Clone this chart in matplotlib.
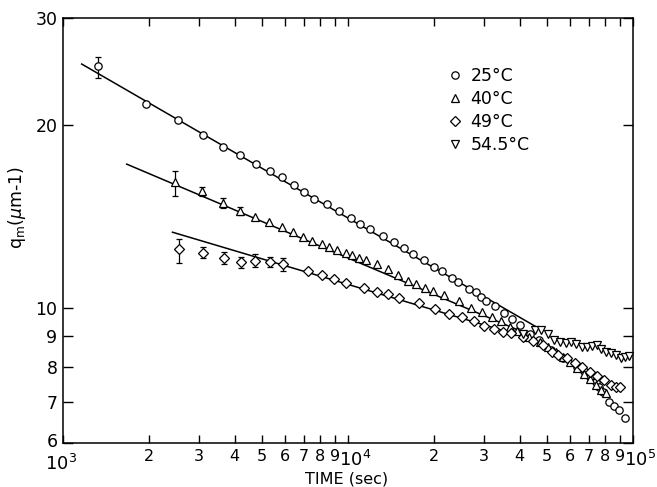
import matplotlib
matplotlib.use('Agg')
import matplotlib.pyplot as plt
import matplotlib.transforms as mtransforms

# q_m (um^-1) versus time (sec)
t25 = [1324, 1955, 2526, 3092, 3642, 4180, 4756, 5325, 5884, 6464,
       7009, 7598, 8440, 9322, 10220, 11020, 11950, 13300, 14540, 15760,
       16870, 18480, 20040, 21320, 23120, 24260, 26650, 28120, 29290, 30500,
       32800, 35270, 37620, 40130, 43500, 46900, 51400, 56900, 63500, 67300,
       70700, 74000, 76000, 78300, 82600, 85800, 89500, 93400]
q25 = [25.05, 21.7, 20.4, 19.27, 18.41, 17.83, 17.28, 16.79, 16.41, 15.92,
       15.51, 15.13, 14.82, 14.43, 14.08, 13.73, 13.48, 13.14, 12.83, 12.54,
       12.27, 11.99, 11.70, 11.50, 11.19, 11.05, 10.74, 10.62, 10.44, 10.28,
       10.07, 9.81, 9.58, 9.38, 9.07, 8.86, 8.53, 8.27, 8.01, 7.88,
       7.71, 7.57, 7.43, 7.29, 7.01, 6.91, 6.80, 6.59]

t40 = [2465, 3075, 3642, 4173, 4725, 5295, 5855, 6397, 6970, 7464,
       8087, 8598, 9173, 9815, 10350, 10930, 11540, 12610, 13760, 14920,
       16280, 17360, 18630, 19930, 21720, 24570, 27020, 29530, 31960, 34340,
       36870, 39170, 43200, 47200, 50300, 53700, 56800, 60100, 63600, 67300,
       70700, 74200, 77200, 80400]
q40 = [16.1, 15.58, 14.91, 14.44, 14.14, 13.87, 13.59, 13.36, 13.09, 12.88,
       12.74, 12.62, 12.48, 12.34, 12.23, 12.08, 12.0, 11.82, 11.60, 11.32,
       11.07, 10.96, 10.81, 10.67, 10.49, 10.28, 9.99, 9.84, 9.67, 9.52,
       9.32, 9.17, 8.97, 8.80, 8.63, 8.47, 8.31, 8.16, 7.97, 7.79,
       7.65, 7.47, 7.33, 7.25]

t49 = [2553, 3107, 3663, 4220, 4736, 5339, 5930, 7255, 8087, 8966,
       9840, 11340, 12610, 13760, 15070, 17810, 20200, 22700, 25220, 27610,
       29960, 32620, 34900, 37380, 41220, 44690, 48330, 51850, 54700, 58550,
       62590, 66070, 70660, 74570, 79110, 83500, 87170, 89700]
q49 = [12.50, 12.32, 12.10, 11.89, 11.95, 11.92, 11.80, 11.49, 11.32, 11.17,
       11.00, 10.79, 10.62, 10.53, 10.39, 10.18, 9.95, 9.79, 9.66, 9.53,
       9.36, 9.23, 9.14, 9.10, 8.98, 8.84, 8.70, 8.48, 8.37, 8.27,
       8.11, 8.01, 7.86, 7.73, 7.62, 7.48, 7.41, 7.41]

t54 = [41220, 45300, 47550, 50440, 52830, 55460, 58220, 60470, 63100, 66070,
       68790, 71630, 74470, 77220, 80400, 83730, 87170, 90400, 93380, 97200]
q54 = [9.06, 9.19, 9.19, 9.08, 8.85, 8.80, 8.76, 8.81, 8.74, 8.62,
       8.62, 8.65, 8.68, 8.55, 8.47, 8.44, 8.36, 8.29, 8.30, 8.33]

# error bars on the early points (lower, upper)
err25_lo, err25_hi = [23.88], [25.85]
err40_lo = [15.31, 15.29, 14.63, 14.23]
err40_hi = [16.81, 15.84, 15.16, 14.68]
err49_lo = [11.86, 12.08, 11.82, 11.62, 11.68, 11.68, 11.52]
err49_hi = [12.99, 12.59, 12.39, 12.13, 12.27, 12.15, 12.08]

# fitted straight lines (end points)
fit25_t, fit25_q = [1163, 47900], [25.2, 9.20]
fit40_t, fit40_q = [1673, 41800], [17.25, 9.10]
fit49_t, fit49_q = [2422, 45300], [13.33, 8.86]

labels = ['25°C', '40°C', '49°C', '54.5°C']
x_major = [1e3, 1e4, 1e5]
x_major_labels = ['$10^{3}$', '$10^{4}$', '$10^{5}$']
x_minor = [m * d for d in (1e3, 1e4) for m in range(2, 10)]
x_minor_labels = [str(m) for d in (1e3, 1e4) for m in range(2, 10)]
y_ticks = [6, 7, 8, 9, 10, 20, 30]

plt.rcParams['font.family'] = ['DejaVu Sans']
plt.rcParams['mathtext.fontset'] = 'dejavusans'

fig = plt.figure(figsize=(6.57, 4.87), dpi=100)
ax = fig.add_axes([63 / 657, 1 - 443 / 487, 570 / 657, 425 / 487])
ax.set_xscale('log')
ax.set_yscale('log')

# fit lines
for ft, fq in [(fit25_t, fit25_q), (fit40_t, fit40_q), (fit49_t, fit49_q)]:
    ax.plot(ft, fq, color='black', lw=1.1, zorder=2)

# error bars
ax.errorbar(t25[:1], q25[:1],
            yerr=[[q25[0] - err25_lo[0]], [err25_hi[0] - q25[0]]],
            fmt='none', ecolor='black', elinewidth=0.9, capsize=2.2, capthick=0.9)
ax.errorbar(t40[:4], q40[:4],
            yerr=[[q - lo for q, lo in zip(q40[:4], err40_lo)],
                  [hi - q for q, hi in zip(q40[:4], err40_hi)]],
            fmt='none', ecolor='black', elinewidth=0.9, capsize=2.2, capthick=0.9)
ax.errorbar(t49[:7], q49[:7],
            yerr=[[q - lo for q, lo in zip(q49[:7], err49_lo)],
                  [hi - q for q, hi in zip(q49[:7], err49_hi)]],
            fmt='none', ecolor='black', elinewidth=0.9, capsize=2.2, capthick=0.9)

mk = dict(linestyle='none', mfc='white', mec='black', mew=0.9, zorder=3)
ax.plot(t25, q25, marker='o', ms=5.3, label=labels[0], **mk)
ax.plot(t40, q40, marker='^', ms=5.5, label=labels[1], **mk)
ax.plot(t49, q49, marker='D', ms=5, label=labels[2], **mk)
ax.plot(t54, q54, marker='v', ms=5.5, label=labels[3], **mk)

ax.set_xlim(1e3, 1e5)
ax.set_ylim(6, 30)

ax.set_xticks(x_major, x_major_labels)
ax.set_xticks(x_minor, x_minor_labels, minor=True)
ax.set_yticks(y_ticks, [str(v) for v in y_ticks])
ax.set_yticks([], minor=True)

ax.tick_params(which='both', direction='in', top=True, right=True, width=1.0)
ax.tick_params(axis='x', which='major', length=6, labelsize=13, pad=4)
ax.tick_params(axis='x', which='minor', length=6, labelsize=11.5, pad=4)
ax.tick_params(axis='y', which='major', length=7.5, labelsize=12.5, pad=4)

# major labels sit a little right of / below their ticks in the reference
majors = ax.xaxis.get_majorticklabels()
down = mtransforms.ScaledTranslation(-2 / 100, -5 / 100, fig.dpi_scale_trans)
shift = mtransforms.ScaledTranslation(7 / 100, -1 / 100, fig.dpi_scale_trans)
majors[0].set_transform(majors[0].get_transform() + down)
for lab in majors[1:]:
    lab.set_transform(lab.get_transform() + shift)
# lift the bottom "6" label slightly, as in the reference corner
ylabs = ax.yaxis.get_majorticklabels()
up = mtransforms.ScaledTranslation(0, 3 / 100, fig.dpi_scale_trans)
ylabs[0].set_transform(ylabs[0].get_transform() + up)

for s in ax.spines.values():
    s.set_linewidth(1.1)

ax.legend(loc='upper left', bbox_to_anchor=(0.672, 0.885), frameon=False,
          fontsize=12.5, handlelength=1.0, handletextpad=0.4,
          labelspacing=0.3, borderpad=0, borderaxespad=0)

fig.text(347 / 657, 1 - 479 / 487, 'TIME (sec)', ha='center', va='center',
         fontsize=11.5)
fig.text(17 / 657, 1 - 208 / 487, r'q$_{\mathrm{m}}$($\mu$m-1)', ha='center',
         va='center', rotation=90, fontsize=12.5)

fig.savefig('out.png', dpi=100)
